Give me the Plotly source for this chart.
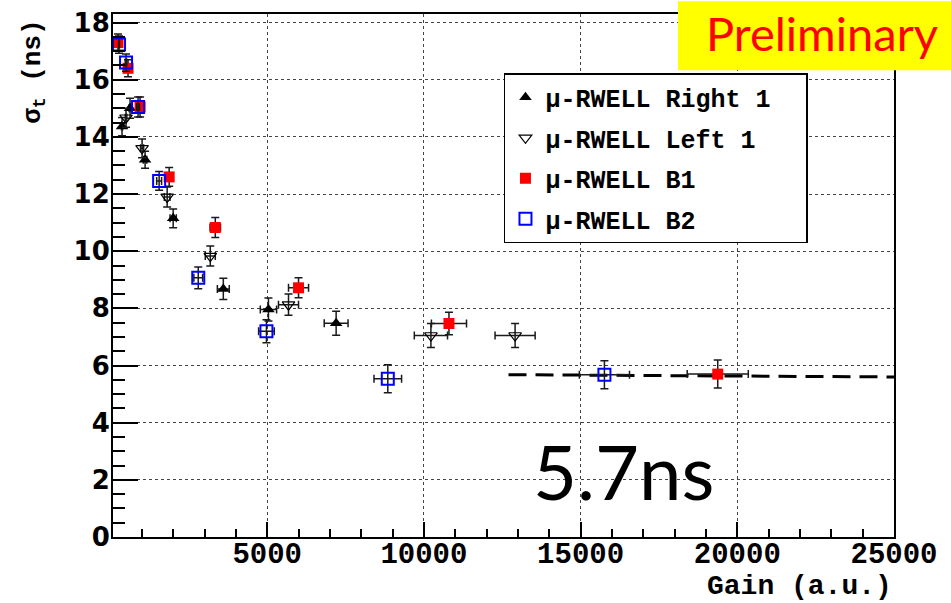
import plotly.graph_objects as go

# ---- data ----
r1_gain = [368, 624, 1104, 2000, 3600, 5040, 7200]
r1_sigma = [14.36, 15.0, 13.2, 11.15, 8.68, 7.96, 7.48]
r1_xerr = [18, 31, 55, 100, 190, 260, 380]
r1_yerr = [0.32, 0.35, 0.3, 0.33, 0.37, 0.4, 0.42]

l1_gain = [496, 1008, 1808, 3184, 5680, 10224, 12910]
l1_sigma = [14.67, 13.6, 11.9, 9.83, 8.13, 7.05, 7.05]
l1_xerr = [25, 50, 90, 160, 320, 530, 640]
l1_yerr = [0.33, 0.33, 0.35, 0.35, 0.37, 0.42, 0.42]

b1_gain = [240, 560, 944, 1872, 3344, 6000, 10800, 19376]
b1_sigma = [17.3, 16.4, 15.05, 12.6, 10.83, 8.72, 7.47, 5.7]
b1_xerr = [12, 28, 47, 94, 167, 320, 560, 975]
b1_yerr = [0.3, 0.3, 0.35, 0.33, 0.35, 0.35, 0.39, 0.49]

b2_gain = [272, 496, 880, 1552, 2800, 4976, 8848, 15760]
b2_sigma = [17.23, 16.6, 15.05, 12.46, 9.07, 7.2, 5.54, 5.68]
b2_xerr = [14, 25, 44, 78, 140, 250, 440, 800]
b2_yerr = [0.3, 0.3, 0.35, 0.33, 0.38, 0.4, 0.49, 0.49]

fit_gain = [12700, 25000]
fit_sigma = [5.68, 5.6]

series_names = ["μ-RWELL Right 1\u00a0\u00a0", "μ-RWELL Left 1", "μ-RWELL B1", "μ-RWELL B2"]

x_range = [80, 25000]
y_range = [0, 18.3]

mono = "Liberation Mono"
err_col = "#1a1a1a"


def ebar(arr):
    return dict(type="data", array=arr, color=err_col, thickness=1.5, width=4)


fig = go.Figure()

fig.add_trace(go.Scatter(
    x=fit_gain, y=fit_sigma, mode="lines", showlegend=False,
    line=dict(color="black", width=3, dash="18px,9px")))

fig.add_trace(go.Scatter(
    x=r1_gain, y=r1_sigma, mode="markers", name=series_names[0],
    legendgroup="a",
    error_x=ebar(r1_xerr), error_y=ebar(r1_yerr),
    marker=dict(symbol="triangle-up", size=11, color="black")))

fig.add_trace(go.Scatter(
    x=l1_gain, y=l1_sigma, mode="markers", name=series_names[1],
    legendgroup="b",
    error_x=ebar(l1_xerr), error_y=ebar(l1_yerr),
    marker=dict(symbol="triangle-down-open", size=11, color="black",
                line=dict(width=1.2, color="black"))))

fig.add_trace(go.Scatter(
    x=b1_gain, y=b1_sigma, mode="markers", name=series_names[2],
    legendgroup="c",
    error_x=ebar(b1_xerr), error_y=ebar(b1_yerr),
    marker=dict(symbol="square", size=11, color="#ff0000")))

fig.add_trace(go.Scatter(
    x=b2_gain, y=b2_sigma, mode="markers", name=series_names[3],
    legendgroup="d",
    error_x=ebar(b2_xerr), error_y=ebar(b2_yerr),
    marker=dict(symbol="square-open", size=12, color="#0000ff",
                line=dict(width=2, color="#0000ff"))))

fig.update_layout(
    width=951, height=603,
    margin=dict(l=113, r=57, t=8, b=66),
    paper_bgcolor="white", plot_bgcolor="white",
    showlegend=True,
    legend=dict(
        x=0.5006, y=0.887, xanchor="left", yanchor="top",
        bgcolor="white", bordercolor="black", borderwidth=1.5,
        font=dict(family=mono, size=25, color="black", weight="bold"),
        tracegroupgap=5, itemwidth=30),
    xaxis=dict(
        range=x_range, tick0=0, dtick=5000, ticks="inside", ticklen=15,
        tickwidth=1.5, tickcolor="black", tickformat="d",
        minor=dict(dtick=1000, tick0=0, ticks="inside", ticklen=8,
                   tickwidth=1.5, tickcolor="black", showgrid=False),
        showline=True, linewidth=2, linecolor="black", mirror=True,
        showgrid=True, gridcolor="#444", griddash="dot", gridwidth=1,
        zeroline=False,
        tickfont=dict(family=mono, size=29, color="black", weight="bold"),
        ticklabelstandoff=-11),
    yaxis=dict(
        range=y_range, tick0=0, dtick=2, ticks="inside", ticklen=25,
        tickwidth=1.5, tickcolor="black",
        minor=dict(dtick=0.5, tick0=0, ticks="inside", ticklen=12,
                   tickwidth=1.5, tickcolor="black", showgrid=False),
        showline=True, linewidth=2, linecolor="black", mirror=True,
        showgrid=True, gridcolor="#444", griddash="dot", gridwidth=1,
        zeroline=False,
        tickfont=dict(family="DejaVu Sans", size=26, color="black", weight="bold"),
        ticklabelstandoff=-4),
)

# axis titles
fig.add_annotation(
    xref="paper", yref="paper", x=1.0, y=-(587 - 537) / 529, xanchor="right", yanchor="middle",
    text="Gain (a.u.)", showarrow=False,
    font=dict(family=mono, size=28, color="black", weight="bold"))
fig.add_annotation(
    xref="paper", yref="paper", x=-0.102, y=0.89, xanchor="center", yanchor="middle",
    text="σ<sub>t</sub> (ns)", textangle=-90, showarrow=False,
    font=dict(family=mono, size=26, color="black", weight="bold"))

# Preliminary banner
fig.add_shape(type="rect", xref="paper", yref="paper",
              x0=(678 - 113) / 781, x1=(951 - 113) / 781,
              y0=(537 - 65) / 529, y1=(537 + 5) / 529,
              fillcolor="#ffff00", line=dict(width=0), layer="above")
fig.add_annotation(
    xref="paper", yref="paper", x=(822 - 113) / 781, y=(537 - 27) / 529,
    xanchor="center", yanchor="middle", text="Preliminary", showarrow=False,
    font=dict(family="Lato", size=47, color="#ff0000"))

# 5.7ns label
fig.add_annotation(
    xref="paper", yref="paper", x=(623 - 113) / 781, y=(537 - 470) / 529,
    xanchor="center", yanchor="middle", text="5.7ns", showarrow=False,
    font=dict(family="Lato", size=76, color="black"))

fig.write_html("out.html")
